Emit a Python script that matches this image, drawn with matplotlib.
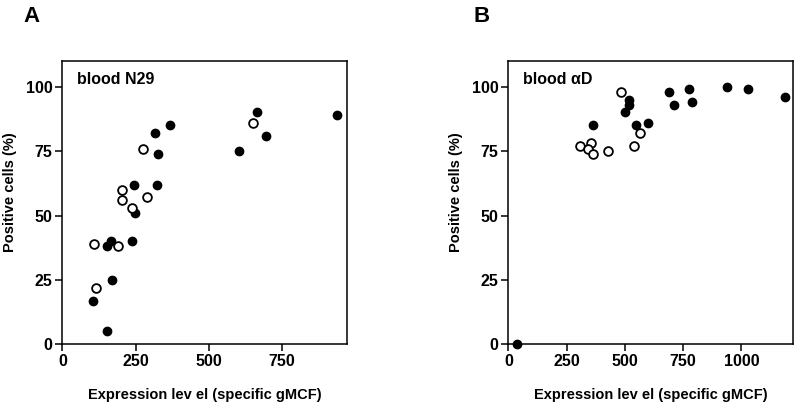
import matplotlib
matplotlib.use("Agg")
import matplotlib.pyplot as plt

plt.rcParams['font.family'] = ['Liberation Sans', 'DejaVu Sans']
plt.rcParams['font.weight'] = 'bold'

# Panel A: blood N29
a_filled_x = [937, 665, 694, 604, 368, 315, 326, 323, 244, 249, 239, 167, 154, 168, 106, 153]
a_filled_y = [89, 90, 81, 75, 85, 82, 74, 62, 62, 51, 40, 40, 38, 25, 17, 5]
a_open_x = [651, 274, 204, 205, 290, 236, 108, 190, 116]
a_open_y = [86, 76, 60, 56, 57, 53, 39, 38, 22]

# Panel B: blood alphaD
b_filled_x = [39, 363, 500, 519, 519, 549, 601, 690, 711, 776, 790, 937, 1029, 1186]
b_filled_y = [0, 85, 90, 95, 93, 85, 86, 98, 93, 99, 94, 100, 99, 96]
b_open_x = [483, 563, 539, 429, 309, 354, 340, 363]
b_open_y = [98, 82, 77, 75, 77, 78, 76, 74]

a_xticks = [0, 250, 500, 750]
b_xticks = [0, 250, 500, 750, 1000]
yticks = [0, 25, 50, 75, 100]

fig = plt.figure(figsize=(8.0, 4.09), dpi=100)
axA = fig.add_axes([0.0779, 0.1582, 0.3555, 0.6927])
axB = fig.add_axes([0.6354, 0.1582, 0.3555, 0.6927])

def style(ax, fx, fy, ox, oy, xticks, xmax, label):
    ax.plot(fx, fy, 'o', color='black', markersize=6, markeredgewidth=1.0, clip_on=False, zorder=3)
    ax.plot(ox, oy, 'o', markerfacecolor='white', markeredgecolor='black', markersize=6.3,
            markeredgewidth=1.3, clip_on=False, zorder=3)
    ax.set_xlim(0, xmax)
    ax.set_ylim(0, 110)
    ax.set_xticks(xticks)
    ax.set_yticks(yticks)
    for s in ax.spines.values():
        s.set_linewidth(1.1)
    ax.tick_params(direction='out', length=5, width=1.1, labelsize=11.5, pad=2)
    for t in ax.get_xticklabels() + ax.get_yticklabels():
        t.set_fontweight('bold')
    ax.set_xlabel('Expression lev el (specific gMCF)', fontsize=10.5, fontweight='bold')
    ax.xaxis.set_label_coords(0.5, -0.155)
    ax.set_ylabel('Positive cells (%)', fontsize=10.5, fontweight='bold')
    ax.yaxis.set_label_coords(-0.16, 0.536)
    ax.text(0.052, 103, label, transform=ax.get_yaxis_transform(), fontsize=11.5,
            fontweight='bold', va='center', ha='left')

style(axA, a_filled_x, a_filled_y, a_open_x, a_open_y, a_xticks, 970, 'blood N29')
style(axB, b_filled_x, b_filled_y, b_open_x, b_open_y, b_xticks, 1220, 'blood \u03b1D')

fig.text(23 / 800, 1 - 16 / 409, 'A', fontsize=16, fontweight='bold', va='center', ha='left')
fig.text(473 / 800, 1 - 16 / 409, 'B', fontsize=16, fontweight='bold', va='center', ha='left')

fig.savefig('out.png', dpi=100)
